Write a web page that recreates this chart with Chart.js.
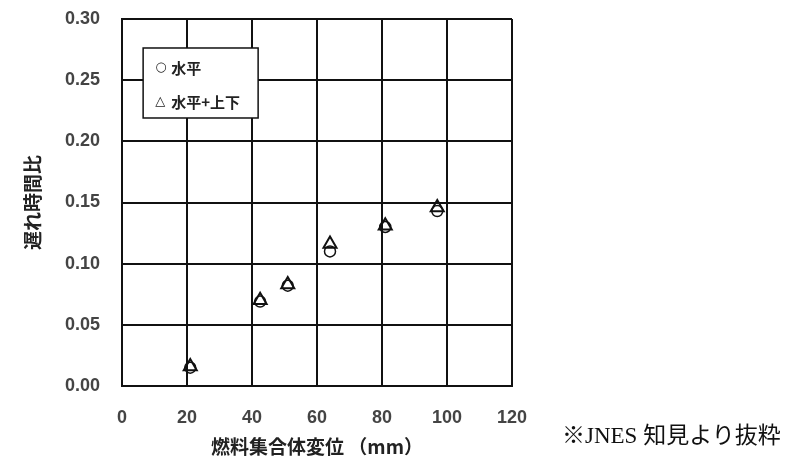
<!DOCTYPE html>
<html lang="ja">
<head>
<meta charset="utf-8">
<title>遅れ時間比</title>
<script src="https://cdn.jsdelivr.net/npm/chart.js@4/dist/chart.umd.min.js"></script>
<style>
  html, body { margin: 0; padding: 0; background: #fff; }
  #wrap { position: relative; width: 789px; height: 464px; }
  #note {
    position: absolute; left: 562px; top: 416px;
    font-family: "Liberation Serif", "DejaVu Serif", "Noto Sans CJK JP", serif;
    font-size: 23px; color: #111; white-space: nowrap;
  }
</style>
</head>
<body>
<div id="wrap">
  <canvas id="chart" width="789" height="464"></canvas>
  <div id="note">※JNES 知見より抜粋</div>
</div>
<script>
// données
const seriesLabels = ['水平', '水平+上下'];
const dispX = [21, 42.5, 51, 64, 81, 97];
const ratioH = [0.015, 0.069, 0.082, 0.110, 0.130, 0.143];
const ratioHV = [0.016, 0.070, 0.083, 0.116, 0.131, 0.146];
const xTitle = '燃料集合体変位 （mm）';
const yTitle = '遅れ時間比';

const tickFont = { family: '"Liberation Sans", Arial, sans-serif', size: 18, weight: 'bold' };
const jpFont = { family: '"Noto Sans CJK JP", sans-serif', size: 19, weight: 'bold' };

// légende encadrée dans la zone du graphique
const boxLegend = {
  id: 'boxLegend',
  afterDraw(chart) {
    const ctx = chart.ctx;
    const x0 = chart.scales.x.getPixelForValue(6.5);
    const y0 = chart.scales.y.getPixelForValue(0.2763);
    const w = 115, h = 70;
    ctx.save();
    ctx.fillStyle = '#fff';
    ctx.fillRect(x0, y0, w, h);
    ctx.lineWidth = 1.5;
    ctx.strokeStyle = '#111';
    ctx.strokeRect(x0, y0, w, h);
    ctx.fillStyle = '#222';
    ctx.textBaseline = 'middle';
    const marks = ['○', '△'];
    seriesLabels.forEach((lab, i) => {
      const yy = y0 + 20 + i * 34;
      ctx.font = '13px "DejaVu Sans", sans-serif';
      ctx.fillText(marks[i], x0 + 12, yy);
      ctx.font = 'bold 15px "Noto Sans CJK JP", sans-serif';
      ctx.fillText(lab, x0 + 28, yy);
    });
    ctx.restore();
  }
};

new Chart(document.getElementById('chart'), {
  type: 'scatter',
  data: {
    datasets: [
      {
        label: seriesLabels[0],
        data: dispX.map((x, i) => ({ x: x, y: ratioH[i] })),
        pointStyle: 'circle',
        pointRadius: 5.5,
        borderColor: '#111',
        backgroundColor: 'rgba(255,255,255,0)',
        borderWidth: 1.5
      },
      {
        label: seriesLabels[1],
        data: dispX.map((x, i) => ({ x: x, y: ratioHV[i] })),
        pointStyle: 'triangle',
        pointRadius: 7.5,
        borderColor: '#111',
        backgroundColor: 'rgba(255,255,255,0)',
        borderWidth: 2
      }
    ]
  },
  options: {
    responsive: false,
    animation: false,
    layout: { padding: { left: 0, right: 277, top: 19, bottom: 0 } },
    plugins: {
      legend: { display: false },
      tooltip: { enabled: false }
    },
    scales: {
      x: {
        type: 'linear',
        min: 0, max: 120,
        afterFit: s => { s.height = 78; s.paddingLeft = 0; s.paddingRight = 0; },
        ticks: { stepSize: 20, color: '#444', font: tickFont, padding: 21 },
        grid: { color: '#111', lineWidth: 2, drawTicks: false },
        border: { color: '#111', width: 2 },
        title: { display: true, text: xTitle, color: '#222', font: jpFont, padding: { top: 0, bottom: 6 } }
      },
      y: {
        min: 0, max: 0.30,
        afterFit: s => { s.width = 122; s.paddingTop = 0; s.paddingBottom = 0; },
        ticks: { stepSize: 0.05, color: '#444', font: tickFont, padding: 22,
                 callback: v => v.toFixed(2) },
        grid: { color: '#111', lineWidth: 2, drawTicks: false },
        border: { color: '#111', width: 2 },
        title: { display: true, text: yTitle, color: '#222', font: jpFont, padding: { top: 21, bottom: 0 } }
      }
    }
  },
  plugins: [boxLegend]
});
</script>
</body>
</html>
